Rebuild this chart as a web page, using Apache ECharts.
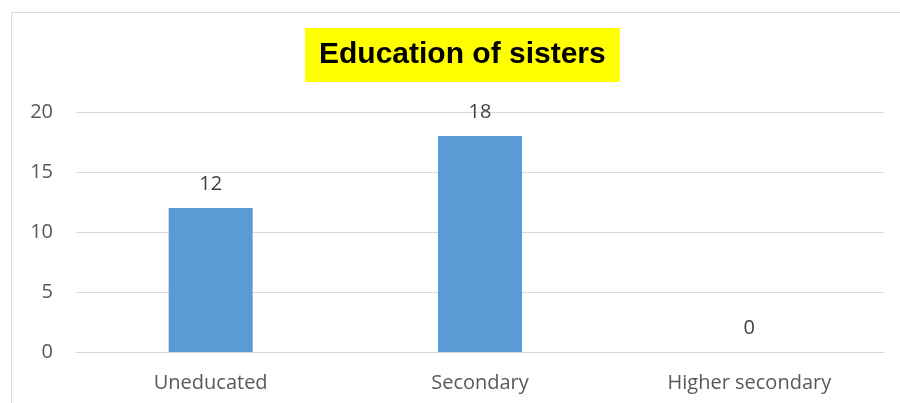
<!DOCTYPE html>
<html>
<head>
<meta charset="utf-8">
<script src="https://cdn.jsdelivr.net/npm/echarts@6/dist/echarts.min.js"></script>
<style>
html,body{margin:0;padding:0;background:#fff;}
#main{width:900px;height:403px;}
</style>
</head>
<body>
<div id="main"></div>
<script>
var categories = ['Uneducated', 'Secondary', 'Higher secondary'];
var values = [12, 18, 0];
var yTicks = [0, 5, 10, 15, 20];
var chartTitle = 'Education of sisters';

var chart = echarts.init(document.getElementById('main'), null, {renderer: 'canvas'});
var font = '"Open Sans", "Liberation Sans", sans-serif';
chart.setOption({
  animation: false,
  backgroundColor: '#fff',
  graphic: [{
    type: 'rect', silent: true, z: -1,
    shape: {x: 11.5, y: 12.5, width: 900, height: 400},
    style: {fill: 'none', stroke: '#d9d9d9', lineWidth: 1}
  }],
  title: {
    text: chartTitle,
    left: 305,
    top: 28,
    backgroundColor: '#ffff00',
    padding: [9, 14, 9, 14],
    textStyle: {fontFamily: '"Liberation Sans", sans-serif', fontWeight: 'bold', fontSize: 30, color: '#000', lineHeight: 36}
  },
  grid: {left: 76, right: 16, top: 112, bottom: 51, containLabel: false},
  xAxis: {
    type: 'category',
    data: categories,
    axisLine: {show: true, lineStyle: {color: '#d9d9d9', width: 1}},
    axisTick: {show: false},
    axisLabel: {color: '#595959', fontSize: 20, fontFamily: font, margin: 21}
  },
  yAxis: {
    type: 'value',
    min: yTicks[0], max: yTicks[yTicks.length - 1], interval: 5,
    axisLine: {show: false},
    axisTick: {show: false},
    splitLine: {lineStyle: {color: '#d9d9d9', width: 1}},
    axisLabel: {color: '#595959', fontSize: 20, fontFamily: font, margin: 23}
  },
  series: [{
    type: 'bar',
    data: values,
    barWidth: 84,
    itemStyle: {color: '#5b9bd5'},
    label: {show: true, position: 'top', distance: 14, color: '#404040', fontSize: 20, fontFamily: font}
  }]
});
</script>
</body>
</html>
